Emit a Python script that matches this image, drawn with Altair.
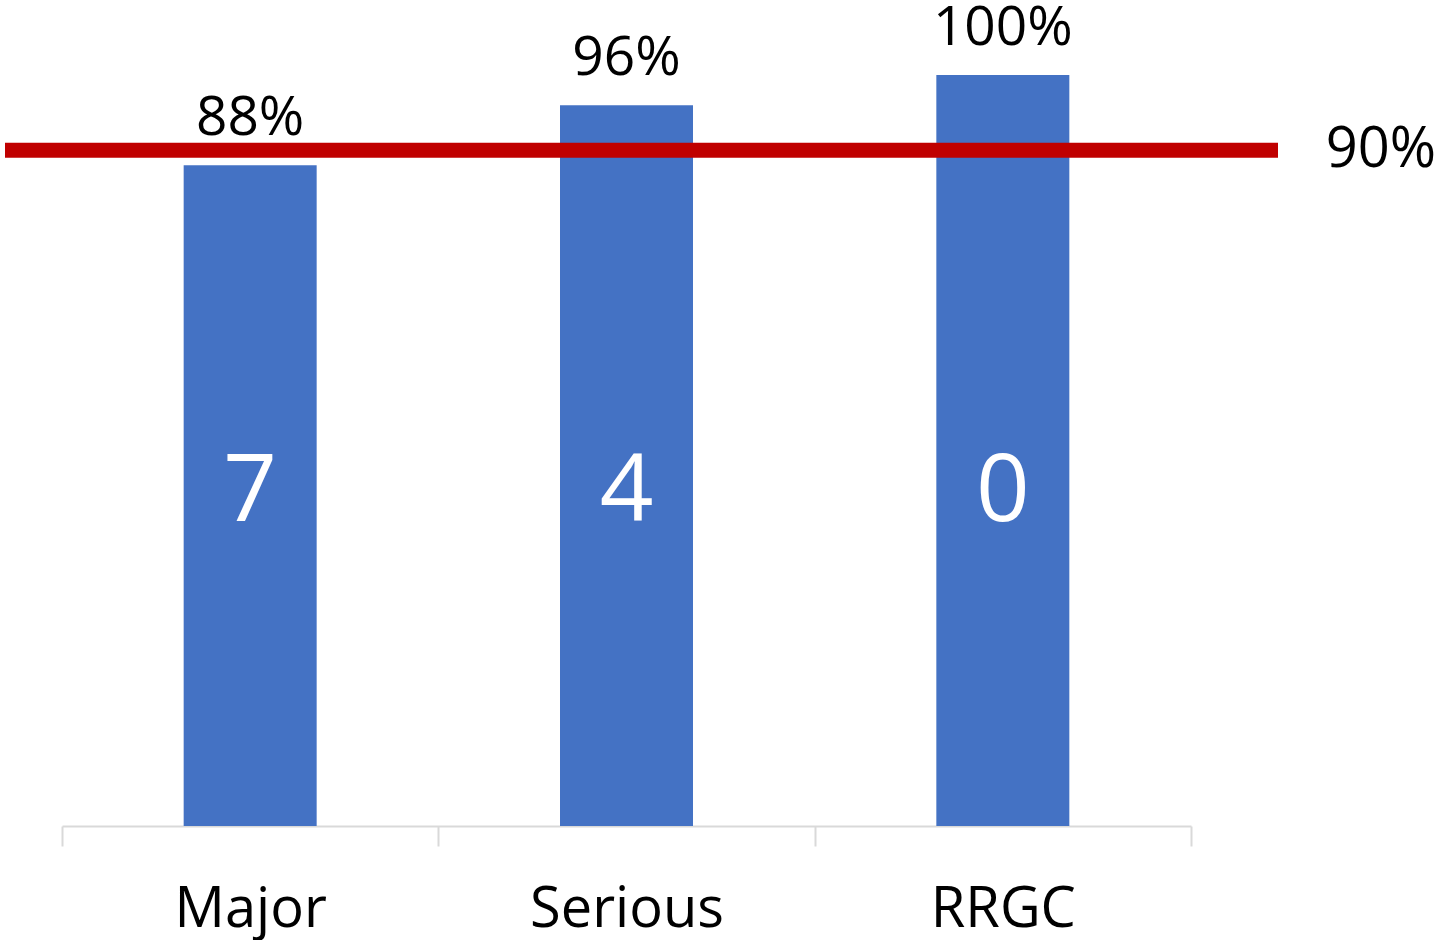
import altair as alt
import pandas as pd

# Compliance by category, with the count of cases shown inside each bar
categories = ["Major", "Serious", "RRGC"]
compliance_pct = [88, 96, 100]
case_counts = [7, 4, 0]
target_pct = 90

FONT = "Open Sans"
BAR_COLOR = "#4472C4"
TARGET_COLOR = "#C00000"
AXIS_GRAY = "#D9D9D9"

df = pd.DataFrame({
    "category": categories,
    "pct": compliance_pct,
    "count": case_counts,
})
df["pct_label"] = [f"{v}%" for v in compliance_pct]
df["count_label"] = [str(c) for c in case_counts]

W, H = 1129, 826

x = alt.X(
    "category:N",
    sort=categories,
    title=None,
    scale=alt.Scale(paddingInner=0, paddingOuter=0),
    axis=alt.Axis(
        tickBand="extent",
        domainColor=AXIS_GRAY,
        domainWidth=2,
        tickColor=AXIS_GRAY,
        tickWidth=2,
        tickSize=20,
        labelAngle=0,
        labelFont=FONT,
        labelFontSize=56,
        labelColor="#000000",
        labelBaseline="alphabetic",
        labelPadding=80,
        labelLimit=0,
        grid=False,
    ),
)
y_scale = alt.Scale(domain=[0, 110], nice=False, zero=True)
y = alt.Y("pct:Q", scale=y_scale, axis=None, title=None)

base = alt.Chart(df)

bars = base.mark_bar(color=BAR_COLOR, size=133).encode(x=x, y=y)

pct_text = base.mark_text(
    font=FONT, fontSize=55, color="#000000", baseline="alphabetic", dy=-30
).encode(x=x, y=y, text="pct_label:N")

count_text = base.mark_text(
    font=FONT, fontSize=94, color="#FFFFFF", baseline="middle"
).encode(x=x, y=alt.value(493), text="count_label:N")

target_df = pd.DataFrame({"target": [target_pct], "label": [f"{target_pct}%"]})
target = alt.Chart(target_df)

target_rule = target.mark_rule(color=TARGET_COLOR, strokeWidth=15).encode(
    x=alt.value(-57),
    x2=alt.value(1216),
    y=alt.Y("target:Q", scale=y_scale, axis=None),
)

target_text = target.mark_text(
    font=FONT, fontSize=56, color="#000000", baseline="middle", align="center"
).encode(
    x=alt.value(1319),
    y=alt.Y("target:Q", scale=y_scale, axis=None),
    text="label:N",
)

chart = (
    alt.layer(bars, pct_text, count_text, target_rule, target_text)
    .properties(
        width=W,
        height=H,
        autosize=alt.AutoSizeParams(type="none"),
        padding={"left": 62, "top": 0, "right": 1440 - 62 - W, "bottom": 940 - H},
        background="#FFFFFF",
    )
    .configure_view(stroke=None)
)

chart.save("out.html", embed_options={"renderer": "svg", "actions": False})
